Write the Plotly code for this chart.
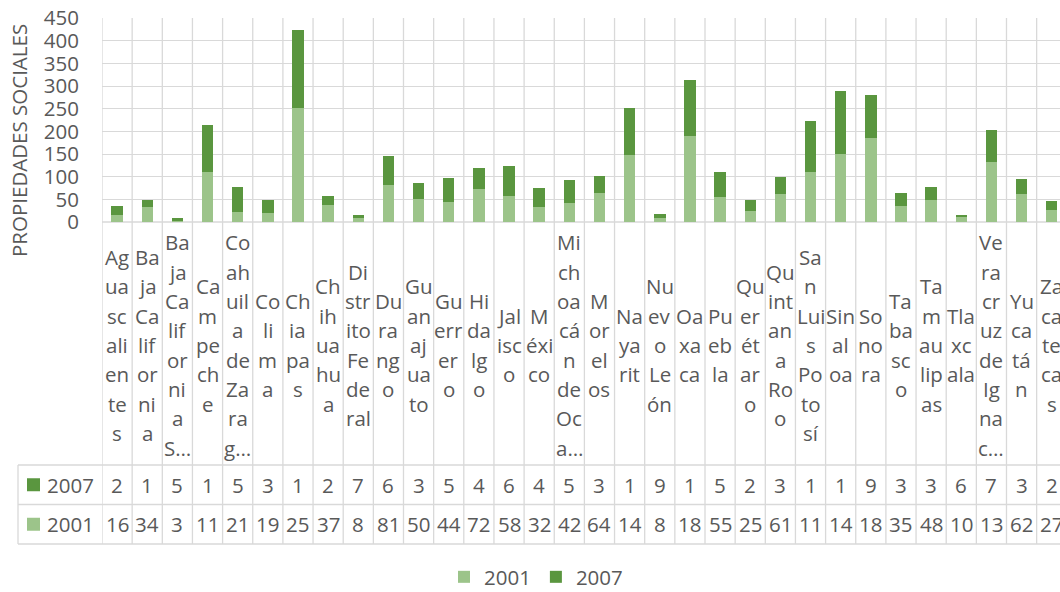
import plotly.graph_objects as go

# ---------------- data ----------------
states = ["Aguascalientes", "Baja California", "Baja California Sur", "Campeche",
          "Coahuila de Zaragoza", "Colima", "Chiapas", "Chihuahua", "Distrito Federal",
          "Durango", "Guanajuato", "Guerrero", "Hidalgo", "Jalisco", "México",
          "Michoacán de Ocampo", "Morelos", "Nayarit", "Nuevo León", "Oaxaca", "Puebla",
          "Querétaro", "Quintana Roo", "San Luis Potosí", "Sinaloa", "Sonora", "Tabasco",
          "Tamaulipas", "Tlaxcala", "Veracruz de Ignacio de la Llave", "Yucatán", "Zacatecas"]

# category labels as they appear wrapped in the data-table header cells
wrapped_labels = [
    "Ag|ua|sc|ali|en|te|s", "Ba|ja|Ca|lif|or|ni|a", "Ba|ja|Ca|lif|or|ni|a|S…",
    "Ca|m|pe|ch|e", "Co|ah|uil|a|de|Za|ra|g…", "Co|li|m|a", "Ch|ia|pa|s",
    "Ch|ih|ua|hu|a", "Di|str|ito|Fe|de|ral", "Du|ra|ng|o", "Gu|an|aj|ua|to",
    "Gu|err|er|o", "Hi|da|lg|o", "Jal|isc|o", "M|éxi|co", "Mi|ch|oa|cá|n|de|Oc|a…",
    "M|or|el|os", "Na|ya|rit", "Nu|ev|o|Le|ón", "Oa|xa|ca", "Pu|eb|la",
    "Qu|er|ét|ar|o", "Qu|int|an|a|Ro|o", "Sa|n|Lui|s|Po|to|sí", "Sin|al|oa",
    "So|no|ra", "Ta|ba|sc|o", "Ta|m|au|lip|as", "Tla|xc|ala",
    "Ve|ra|cr|uz|de|Ig|na|c…", "Yu|ca|tá|n", "Za|ca|te|ca|s"]

v2001 = [16, 34, 3, 111, 21, 19, 252, 37, 8, 81, 50, 44, 72, 58, 32, 42,
         64, 147, 8, 189, 55, 25, 61, 110, 149, 185, 35, 48, 10, 132, 62, 27]
v2007 = [20, 15, 5, 104, 56, 30, 172, 21, 7, 65, 35, 52, 47, 66, 44, 51,
         37, 104, 9, 125, 55, 24, 38, 113, 140, 95, 30, 30, 6, 71, 32, 20]

series_names = ["2001", "2007"]
y_ticks = [0, 50, 100, 150, 200, 250, 300, 350, 400, 450]
y_title = "PROPIEDADES SOCIALES"

# ---------------- styling ----------------
C_LIGHT = "#9cc48a"
C_DARK = "#5a963f"
GRID = "#d9d9d9"
TXT = "#595959"
FONT = "Open Sans"
FS = 20.5

W, H = 1060, 592
PLOT_L, PLOT_T, PLOT_B = 102, 18, 222
PLOT_H = PLOT_B - PLOT_T
PLOT_W = W - PLOT_L
CAT_W = 30.15
x_end = -0.5 + PLOT_W / CAT_W


def py(p):
    """pixel row -> paper y"""
    return (PLOT_B - p) / PLOT_H


def px(p):
    """pixel column -> paper x"""
    return (p - PLOT_L) / PLOT_W


xs = list(range(len(states)))

fig = go.Figure()
fig.add_trace(go.Bar(x=xs, y=v2001, name=series_names[0], marker_color=C_LIGHT,
                     marker_line_width=0, customdata=states,
                     hovertemplate="%{customdata}<br>2001: %{y}<extra></extra>"))
fig.add_trace(go.Bar(x=xs, y=v2007, name=series_names[1], marker_color=C_DARK,
                     marker_line_width=0, customdata=states,
                     hovertemplate="%{customdata}<br>2007: %{y}<extra></extra>"))

shapes = []
annotations = []

# table geometry (pixels)
ROW1_T, ROW2_T, ROW2_B = 465, 504.5, 544
LABEL_C, LINE_H = 345, 29.3

# vertical cell borders (category boundaries), from plot top down to table bottom
for k in range(len(states) + 1):
    shapes.append(dict(type="line", xref="x", yref="paper", x0=k - 0.5, x1=k - 0.5,
                       y0=1, y1=py(ROW2_B), line=dict(color=GRID, width=1.3), layer="below"))
# horizontal table lines
for yy in (ROW1_T, ROW2_T, ROW2_B):
    shapes.append(dict(type="line", xref="paper", yref="paper", x0=px(18), x1=1.0,
                       y0=py(yy), y1=py(yy), line=dict(color=GRID, width=1.3), layer="below"))
shapes.append(dict(type="line", xref="paper", yref="paper", x0=px(18), x1=px(18),
                   y0=py(ROW1_T), y1=py(ROW2_B), line=dict(color=GRID, width=1.3), layer="below"))
shapes.append(dict(type="line", xref="paper", yref="paper", x0=0, x1=1,
                   y0=0, y1=0, line=dict(color=GRID, width=1.3), layer="below"))

# category labels in header cells
for i, lab in enumerate(wrapped_labels):
    parts = lab.split("|")
    n = len(parts)
    for j, part in enumerate(parts):
        yc = LABEL_C + (j - (n - 1) / 2) * LINE_H
        annotations.append(dict(xref="x", yref="paper", x=i, y=py(yc), text=part,
                                showarrow=False, xanchor="center", yanchor="middle",
                                font=dict(family=FONT, size=FS, color=TXT)))

# data table values (cells too narrow: text is cut)
rows = [(series_names[1], v2007, C_DARK, (ROW1_T + ROW2_T) / 2, 1),
        (series_names[0], v2001, C_LIGHT, (ROW2_T + ROW2_B) / 2, 2)]
for name, vals, col, yc, nch in rows:
    shapes.append(dict(type="rect", xref="paper", yref="paper", x0=px(27), x1=px(40),
                       y0=py(yc - 6.5), y1=py(yc + 6.5), fillcolor=col, line=dict(width=0)))
    annotations.append(dict(xref="paper", yref="paper", x=px(45), y=py(yc), text=name,
                            showarrow=False, xanchor="left", yanchor="middle",
                            font=dict(family=FONT, size=FS, color=TXT)))
    for i, v in enumerate(vals):
        annotations.append(dict(xref="x", yref="paper", x=i, y=py(yc), text=str(v)[:nch],
                                showarrow=False, xanchor="center", yanchor="middle",
                                font=dict(family=FONT, size=FS, color=TXT)))

# y axis title
annotations.append(dict(xref="paper", yref="paper", x=px(19), y=py(141), text=y_title,
                        textangle=-90, showarrow=False, xanchor="center", yanchor="middle",
                        font=dict(family=FONT, size=FS, color=TXT)))

fig.update_layout(
    width=W, height=H,
    margin=dict(l=PLOT_L, r=0, t=PLOT_T, b=H - PLOT_B, pad=0, autoexpand=False),
    paper_bgcolor="white", plot_bgcolor="white",
    barmode="stack", bargap=0.62,
    font=dict(family=FONT, size=FS, color=TXT),
    showlegend=True,
    legend=dict(orientation="h", xanchor="center", yanchor="middle",
                x=px(536), y=py(577), font=dict(family=FONT, size=FS, color=TXT),
                traceorder="normal", bgcolor="rgba(0,0,0,0)", itemwidth=30),
    xaxis=dict(range=[-0.5, x_end], showgrid=False, showticklabels=False,
               zeroline=False, showline=False, ticks=""),
    yaxis=dict(range=[0, 450], tickvals=y_ticks, showgrid=True, gridcolor=GRID,
               gridwidth=1.3, zeroline=False, showline=False, ticks="",
               ticklabelstandoff=22,
               tickfont=dict(family=FONT, size=FS, color=TXT)),
    shapes=shapes,
    annotations=annotations,
)

fig.write_html("out.html", config={"displayModeBar": False},
               post_script="document.body.style.margin='0';document.body.style.overflow='hidden';")
